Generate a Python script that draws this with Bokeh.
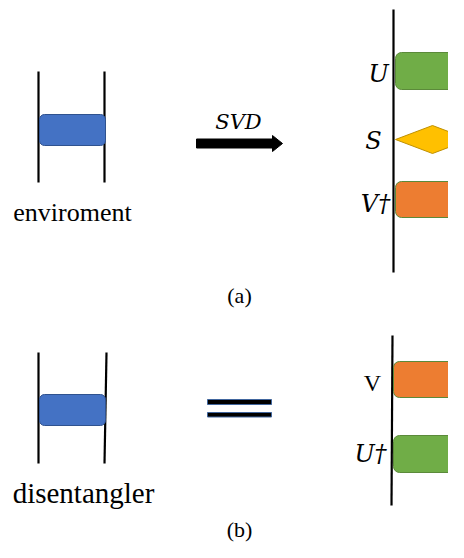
from bokeh.plotting import figure
from bokeh.models import Range1d
from bokeh.core.properties import value
from bokeh.embed import file_html
from bokeh.resources import INLINE

# ---- diagram data (image coordinates, y grows downward) ----
# wires: x0, y0, x1, y1
wire_x0 = [38, 104, 393, 38, 106, 392]
wire_y0 = [71, 71, 9, 352, 352, 335]
wire_x1 = [38, 104, 393, 38, 104, 391]
wire_y1 = [182, 182, 272, 463, 463, 505]

# blue tensors (environment, disentangler)
blue_left = [39, 39]
blue_right = [105, 105]
blue_top = [114, 394]
blue_bottom = [145, 425]

# right-hand tensors
box_left = [395, 395, 393, 393]
box_right = [490, 490, 490, 490]
box_top = [52, 181, 361, 435]
box_bottom = [89, 217, 397, 472]
box_color = ["#70AD47", "#ED7D31", "#ED7D31", "#70AD47"]

# singular values diamond
diamond_x = [395, 432, 469, 432]
diamond_y = [139, 125, 139, 153]

# SVD arrow
arrow_x = [196, 272, 272, 282, 272, 272, 196]
arrow_y = [138.5, 138.5, 135, 143, 151, 147.5, 147.5]

# equals sign bars
eq_left = [207, 207]
eq_right = [271, 271]
eq_top = [399, 412]
eq_bottom = [404, 416.5]

# labels
serif_labels = ["enviroment", "disentangler", "(a)", "(b)", "V"]
serif_x = [72, 83, 239, 239, 372]
serif_y = [212, 492, 295, 529, 382]
serif_size = ["26px", "29px", "22px", "22px", "24px"]

math_labels = ["SVD", "U", "S", "V†", "U†"]
math_x = [238, 378, 373, 375, 370]
math_y = [121, 73, 140, 203, 453]
math_size = ["21px", "24px", "24px", "24px", "24px"]

p = figure(width=448, height=542, output_backend="svg", toolbar_location=None,
           x_range=Range1d(0, 448), y_range=Range1d(542, 0),
           x_axis_type=None, y_axis_type=None, min_border=0)
p.grid.visible = False
p.outline_line_color = None
p.background_fill_color = "white"

p.segment(x0=wire_x0, y0=wire_y0, x1=wire_x1, y1=wire_y1,
          line_color="black", line_width=2.2)

p.quad(left=blue_left, right=blue_right, top=blue_top, bottom=blue_bottom,
       fill_color="#4472C4", line_color="#2F528F", line_width=1,
       border_radius=5)

p.quad(left=box_left, right=box_right, top=box_top, bottom=box_bottom,
       fill_color=box_color, line_color="#5B8A3A", line_width=1,
       border_radius=6)

p.patch(diamond_x, diamond_y, fill_color="#FFC000", line_color="#BF9000", line_width=1)

p.patch(arrow_x, arrow_y, fill_color="black", line_color="black", line_width=1)

p.quad(left=eq_left, right=eq_right, top=eq_top, bottom=eq_bottom,
       fill_color="black", line_color="#41669E", line_width=1)

for t, x, y, s in zip(serif_labels, serif_x, serif_y, serif_size):
    p.text(x=[x], y=[y], text=[t], text_font=value("Liberation Serif"),
           text_font_size=s, text_align="center", text_baseline="middle",
           text_color="black")

for t, x, y, s in zip(math_labels, math_x, math_y, math_size):
    p.text(x=[x], y=[y], text=[t], text_font=value("DejaVu Serif"),
           text_font_style="italic",
           text_font_size=s, text_align="center", text_baseline="middle",
           text_color="black")

open("out.html", "w").write(file_html(p, INLINE))
